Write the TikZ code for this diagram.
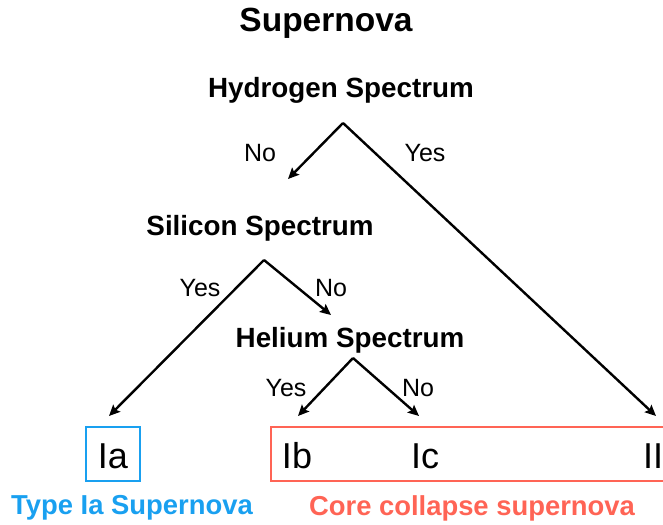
\documentclass[tikz,border=0pt]{standalone}
\usepackage{fontspec}
\setmainfont{Liberation Sans}
\usetikzlibrary{arrows.meta}
\definecolor{iablue}{RGB}{25,160,240}
\definecolor{ccred}{RGB}{255,100,85}
\begin{document}
\begin{tikzpicture}[x=1pt,y=-1pt,
  head/.style={font=\fontsize{27.8}{30}\selectfont\bfseries, inner sep=0pt},
  lab/.style={font=\fontsize{25}{28}\selectfont, inner sep=0pt},
  typ/.style={font=\fontsize{36}{40}\selectfont, inner sep=0pt},
  arr/.style={line width=2.4pt, -{Stealth[length=11pt,width=10pt,inset=2pt]}},
  cat/.style={font=\fontsize{27.4}{30}\selectfont\bfseries, inner sep=0pt}]
\clip (0,0) rectangle (663,524);
\useasboundingbox (0,0) rectangle (663,524);
\node[font=\fontsize{33.5}{36}\selectfont\bfseries, inner sep=0pt] (title) at (326,23) {Supernova};
\node[head] (hyd) at (341,90) {Hydrogen Spectrum};
\node[head] (sil) at (260,228) {Silicon Spectrum};
\node[head] (hel) at (350,340) {Helium Spectrum};
\coordinate (a1) at (343,123);
\coordinate (a2) at (264,260);
\coordinate (a3) at (353,358);
\coordinate (siltop) at (288,179);
\coordinate (heltop) at (331,315);
\node[typ] (ia) at (113,456) {Ia};
\node[typ] (ib) at (297,456) {Ib};
\node[typ] (ic) at (425,456) {Ic};
\node[typ] (ii) at (653,456) {II};
\coordinate (iaT) at (109,416);
\coordinate (ibT) at (298,416);
\coordinate (icT) at (419,416);
\coordinate (iiT) at (656,416);
\draw[iablue, line width=2.4pt] (86,427) rectangle (140,481);
\draw[ccred, line width=2.4pt] (271,427) rectangle (675,481);
\node[cat, text=iablue] (typeia) at (132,508) {Type Ia Supernova};
\node[cat, text=ccred] (core) at (472,508) {Core collapse supernova};
\draw[arr] (a1) -- (siltop);
\draw[arr] (a1) -- (iiT);
\draw[arr] (a2) -- (iaT);
\draw[arr] (a2) -- (heltop);
\draw[arr] (a3) -- (ibT);
\draw[arr] (a3) -- (icT);
\node[lab] (n1) at (260,153) {No};
\node[lab] (y1) at (425,153) {Yes};
\node[lab] (y2) at (200,288) {Yes};
\node[lab] (n2) at (331,288) {No};
\node[lab] (y3) at (286,388) {Yes};
\node[lab] (n3) at (418,388) {No};
\end{tikzpicture}
\end{document}
